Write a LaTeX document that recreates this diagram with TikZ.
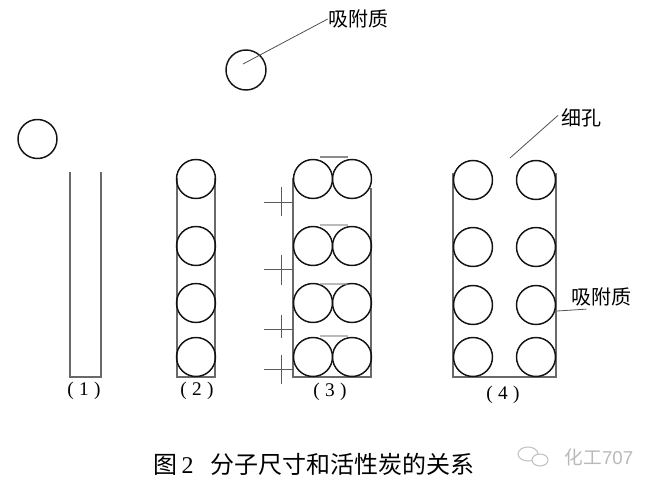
\documentclass[tikz,border=0pt]{standalone}
\usepackage{fontspec}
\setmainfont{Liberation Serif}
\newfontfamily\cjk{Noto Sans CJK SC}

\begin{document}
\begin{tikzpicture}[x=0.75pt,y=0.75pt,yscale=-1,xscale=1,
  wall/.style={color={rgb, 255:red, 105; green, 105; blue, 105}, line width=0.8},
  mol/.style={color={rgb, 255:red, 20; green, 20; blue, 20}, line width=1.1},
  lid/.style={color={rgb, 255:red, 140; green, 140; blue, 140}, line width=0.8},
  lead/.style={color={rgb, 255:red, 80; green, 80; blue, 80}, line width=0.6},
  tick/.style={color={rgb, 255:red, 90; green, 90; blue, 90}, line width=0.7},
  lbl/.style={font=\cjk\fontsize{15}{18}\selectfont, inner sep=0},
  num/.style={font=\fontsize{14.5}{17}\selectfont, inner sep=0}]
\path[use as bounding box] (0,0) rectangle (654,490);

%Shape: Circle (free molecule, left)
\draw [mol] (37.5,139) circle (19.5);
%Shape: Circle (free molecule, top)
\draw [mol] (246,70) circle (20);
\coordinate (freeTip) at (243,64);

%Straight Lines: pore (1)
\draw [wall] (70,172) -- (70,377) -- (101,377) -- (101,172) ;

%Straight Lines: pore (2)
\draw [wall] (177,178) -- (177,377) -- (215,377) -- (215,178) ;
%Shape: Circle
\draw [mol] (196,179) circle (19.5);
\draw [mol] (196,246) circle (19.5);
\draw [mol] (196,303) circle (19.5);
\draw [mol] (196,357) circle (19.5);

%Straight Lines: pore (3)
\draw [wall] (293,178) -- (293,377) -- (371,377) -- (371,188) ;
%Shape: Circle
\draw [mol] (313,179) circle (19.5);
\draw [mol] (352,179) circle (19.5);
\draw [mol] (313,246) circle (19.5);
\draw [mol] (352,246) circle (19.5);
\draw [mol] (313,303) circle (19.5);
\draw [mol] (352,303) circle (19.5);
\draw [mol] (313,357) circle (19.5);
\draw [mol] (352,357) circle (19.5);
%Straight Lines: lids
\draw [lid] (320,157) -- (348,157) ;
\draw [lid, opacity=0.6] (320,225) -- (348,225) ;
\draw [lid, opacity=0.6] (320,284) -- (348,284) ;
\draw [lid, opacity=0.6] (320,336) -- (348,336) ;
%Straight Lines: crosses
\draw [tick] (264,202) -- (293,202) (281,187) -- (281,216) ;
\draw [tick] (264,269) -- (293,269) (281,255) -- (281,285) ;
\draw [tick] (264,329) -- (293,329) (281,315) -- (281,338) ;
\draw [tick] (264,369) -- (293,369) (281,355) -- (281,384) ;

%Straight Lines: pore (4)
\draw [wall] (453,173) -- (453,377) -- (556,377) -- (556,173) ;
%Shape: Circle
\draw [mol] (473,180) circle (19.5);
\draw [mol] (536,180) circle (19.5);
\draw [mol] (473,247) circle (19.5);
\draw [mol] (536,247) circle (19.5);
\draw [mol] (473,305) circle (19.5);
\draw [mol] (536,305) circle (19.5);
\draw [mol] (473,357) circle (19.5);
\draw [mol] (536,357) circle (19.5);
\coordinate (pore) at (510,158);
\coordinate (wallR) at (557,311);

% Text Node
\node [lbl] (lblTop) at (358,19) {吸附质};
% Text Node
\node [lbl] (lblPore) at (581,118) {细孔};
% Text Node
\node [lbl] (lblSide) at (601,297) {吸附质};

%Straight Lines: leaders
\draw [lead] (freeTip) -- (lblTop.west) ;
\draw [lead] (pore) -- ([xshift=-2pt,yshift=-2pt]lblPore.west) ;
\draw [lead] (wallR) -- ([xshift=-11pt,yshift=2pt]lblSide.south) ;

% Text Node
\node [num] (cap1) at (84,391) {(\;1\;)};
% Text Node
\node [num] (cap2) at (197,391) {(\;2\;)};
% Text Node
\node [num] (cap3) at (330,392) {(\;3\;)};
% Text Node
\node [num] (cap4) at (503,395) {(\;4\;)};

% Text Node
\node [inner sep=0, font=\fontsize{18}{22}\selectfont] (title) at (314,464)
  {{\cjk 图}\,2\hspace{0.7em}{\cjk 分子尺寸和活性炭的关系}};

%Shape: Ellipse (logo)
\draw [color={rgb, 255:red, 195; green, 195; blue, 195}, line width=0.8] (528,454) ellipse (10 and 7);
\draw [color={rgb, 255:red, 195; green, 195; blue, 195}, line width=0.8, fill=white] (540,460) ellipse (8 and 6);
% Text Node
\node [inner sep=0, color={rgb, 255:red, 185; green, 185; blue, 185}, font=\fontspec{Liberation Sans}\fontsize{14}{17}\selectfont] (mark) at (599,457)
  {{\cjk 化工}707};

\end{tikzpicture}
\end{document}
